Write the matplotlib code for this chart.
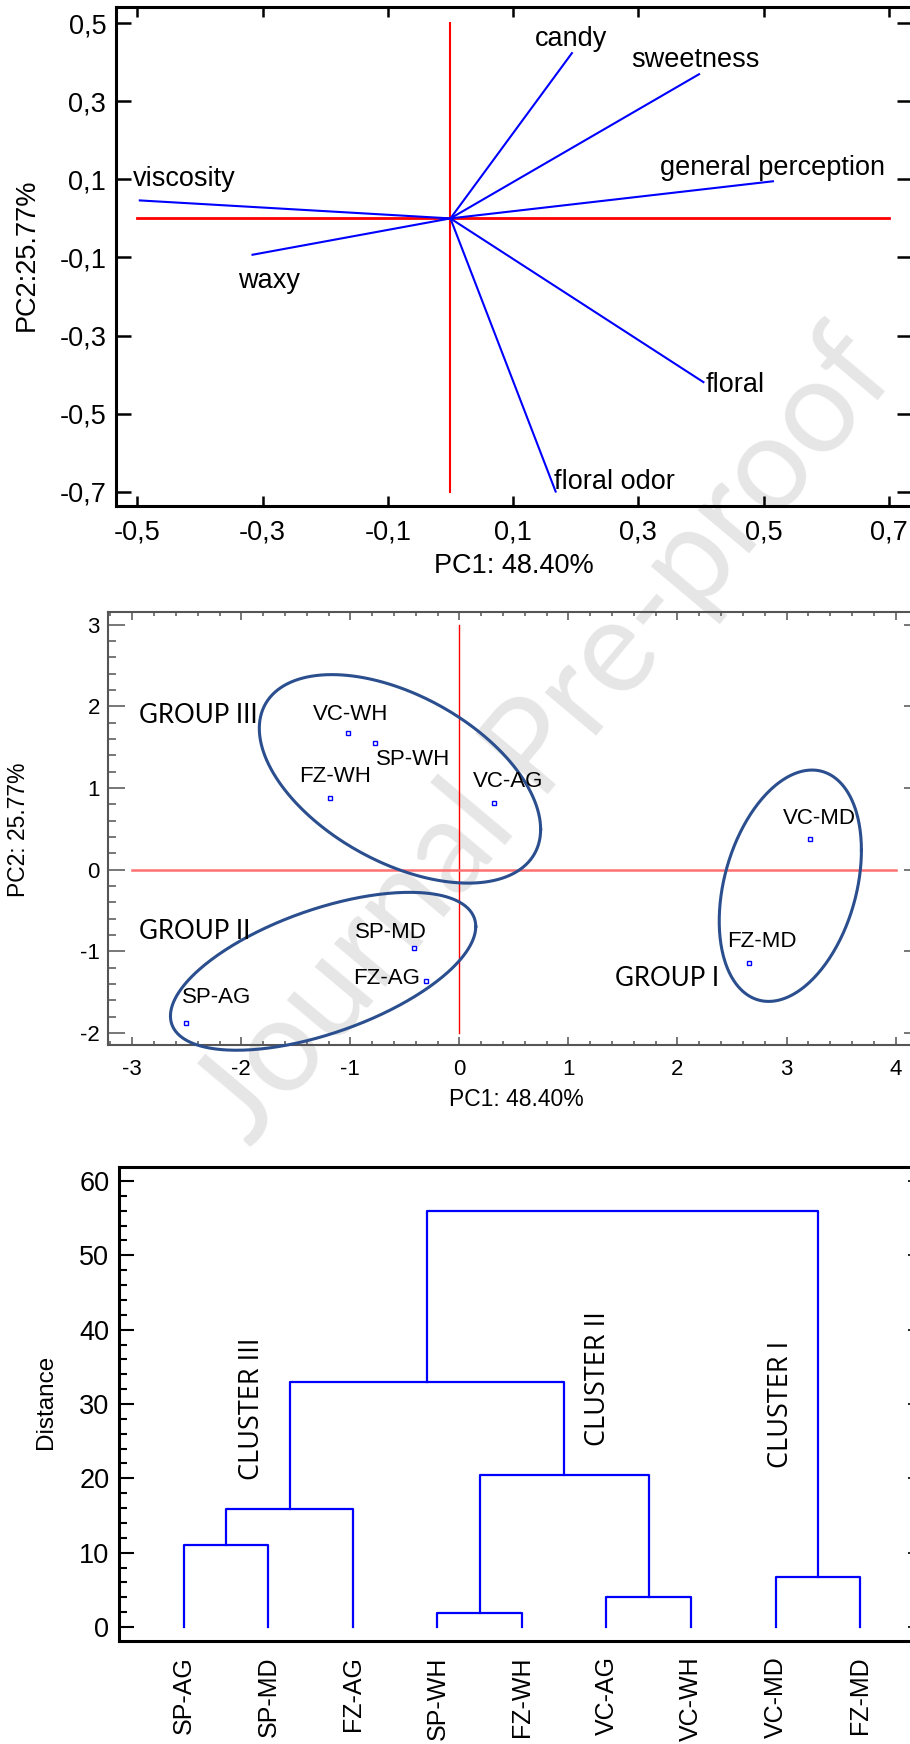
import numpy as np
import matplotlib
matplotlib.use("Agg")
import matplotlib.pyplot as plt
from matplotlib.ticker import MultipleLocator

plt.rcParams['font.family'] = ['Liberation Sans', 'DejaVu Sans']
plt.rcParams['axes.unicode_minus'] = False

# --- PCA loadings (panel 1) ---
attributes = ["candy", "sweetness", "general perception", "viscosity",
              "waxy", "floral", "floral odor"]
load_pc1 = [0.194, 0.397, 0.515, -0.496, -0.316, 0.404, 0.168]
load_pc2 = [0.423, 0.369, 0.095, 0.046, -0.093, -0.419, -0.699]
attr_label_x = [0.135, 0.289, 0.335, -0.507, -0.339, 0.408, 0.166]
attr_label_y = [0.459, 0.405, 0.128, 0.101, -0.161, -0.426, -0.675]

# --- PCA scores (panel 2) ---
samples = ["VC-WH", "SP-WH", "FZ-WH", "VC-AG", "VC-MD", "FZ-MD",
           "SP-MD", "FZ-AG", "SP-AG"]
score_pc1 = [-1.02, -0.77, -1.19, 0.32, 3.22, 2.66, -0.42, -0.31, -2.505]
score_pc2 = [1.68, 1.55, 0.88, 0.82, 0.375, -1.144, -0.953, -1.364, -1.873]
sample_label_x = [-1.34, -0.766, -1.473, 0.122, 2.968, 2.452, -0.957, -0.979, -2.548]
sample_label_y = [1.90, 1.352, 1.14, 1.079, 0.631, -0.879, -0.765, -1.335, -1.568]

groups = ["GROUP III", "GROUP II", "GROUP I"]
group_label_x = [-2.936, -2.936, 1.426]
group_label_y = [1.889, -0.753, -1.327]
# ellipse: centre, half extent in x, half extent in y, x-y covariance term
ell_cx = [-0.545, -1.25, 3.035]
ell_cy = [1.113, -1.244, -0.196]
ell_hw = [1.29, 1.40, 0.652]
ell_hh = [1.277, 0.967, 1.417]
ell_cov = [-0.798, 0.767, 0.282]

# --- dendrogram (panel 3) ---
leaves = ["SP-AG", "SP-MD", "FZ-AG", "SP-WH", "FZ-WH", "VC-AG", "VC-WH",
          "VC-MD", "FZ-MD"]
merge_left = [0, 9, 3, 5, 11, 10, 7, 14]
merge_right = [1, 2, 4, 6, 12, 13, 8, 15]
merge_height = [11.05, 15.9, 1.9, 4.05, 20.5, 32.9, 6.75, 55.9]
clusters = ["CLUSTER III", "CLUSTER II", "CLUSTER I"]
cluster_x = [1.80, 5.90, 8.06]
cluster_y = [29.3, 33.4, 30.0]


def comma(v):
    return f"{v:.1f}".replace(".", ",")


fig = plt.figure(figsize=(9.1, 17.44), dpi=100)

fig.text(0.600, 0.577, "Journal Pre-proof", fontsize=94, color='#e6e6e6',
         rotation=50, ha='center', va='center', family='Lato', zorder=-5)

# ================= panel 1: loadings =================
ax1 = fig.add_axes([0.12747, 0.70986, 0.8747, 0.2859])
ax1.set_facecolor('none')
ax1.plot([0, 0], [-0.7, 0.5], color='red', lw=1.5, zorder=2)
ax1.plot([-0.5, 0.7], [0, 0], color='red', lw=2, zorder=2)
for i, name in enumerate(attributes):
    ax1.plot([0, load_pc1[i]], [0, load_pc2[i]], color='#0000ff', lw=1.5, zorder=3)
    ax1.text(attr_label_x[i], attr_label_y[i], name, fontsize=19.5,
             ha='left', va='center', zorder=4)
ax1.set_xlim(-0.534, 0.737)
ax1.set_ylim(-0.736, 0.540)
xt = np.arange(-0.5, 0.71, 0.2)
yt = np.arange(-0.7, 0.51, 0.2)
ax1.set_xticks(xt, [comma(v) for v in xt])
ax1.set_yticks(yt, [comma(v) for v in yt])
ax1.tick_params(axis='both', direction='in', top=True, right=True,
                width=1.8, labelsize=19.5)
ax1.tick_params(axis='x', length=7, pad=10)
ax1.tick_params(axis='y', length=10.5, pad=7)
for s in ax1.spines.values():
    s.set_linewidth(2.2)
ax1.set_xlabel("PC1: 48.40%", fontsize=19.5)
ax1.set_ylabel("PC2:25.77%", fontsize=19.5)
ax1.xaxis.set_label_coords(0.5, -0.094)
ax1.yaxis.set_label_coords(-0.096, 0.503)

# ================= panel 2: scores =================
ax2 = fig.add_axes([0.1190, 0.40080, 0.8832, 0.2480])
ax2.set_facecolor('none')
ax2.plot([0, 0], [-2, 3], color='red', lw=1, zorder=2)
ax2.plot([-3, 4], [0, 0], color='#ff7070', lw=1.8, zorder=2)
t = np.linspace(0, 2 * np.pi, 300)
for i in range(len(groups)):
    S = np.array([[ell_hw[i] ** 2, ell_cov[i]], [ell_cov[i], ell_hh[i] ** 2]])
    L = np.linalg.cholesky(S)
    pts = L @ np.vstack([np.cos(t), np.sin(t)])
    ax2.plot(ell_cx[i] + pts[0], ell_cy[i] + pts[1], color='#2b4f8e', lw=2.2,
             zorder=3, clip_on=False)
    ax2.text(group_label_x[i], group_label_y[i], groups[i], fontsize=18.5,
             family='Lato', ha='left', va='center', zorder=4)
ax2.plot(score_pc1, score_pc2, ls='none', marker='s', ms=3.5, mfc='white',
         mec='#0000ff', mew=1, zorder=5)
for i, name in enumerate(samples):
    ax2.text(sample_label_x[i], sample_label_y[i], name, fontsize=16,
             ha='left', va='center', zorder=4)
ax2.set_xlim(-3.22, 4.151)
ax2.set_ylim(-2.147, 3.151)
ax2.set_xticks(range(-3, 5))
ax2.set_yticks(range(-2, 4))
ax2.xaxis.set_minor_locator(MultipleLocator(0.2))
ax2.yaxis.set_minor_locator(MultipleLocator(0.2))
ax2.tick_params(axis='both', which='both', direction='in', color='#606060',
                width=1.2, labelsize=16)
ax2.tick_params(axis='x', which='major', length=5.5, top=True, pad=10)
ax2.tick_params(axis='x', which='minor', length=2.8, top=True)
ax2.tick_params(axis='y', which='major', length=12, pad=6)
ax2.tick_params(axis='y', which='minor', length=6)
sec2 = ax2.secondary_yaxis('right')
sec2.set_yticks(range(-2, 4))
sec2.tick_params(direction='in', length=6, color='#606060', width=1.2,
                 labelright=False)
for s in list(ax2.spines.values()) + list(sec2.spines.values()):
    s.set_color('#555555')
    s.set_linewidth(1.5)
ax2.set_xlabel("PC1: 48.40%", fontsize=16.5)
ax2.set_ylabel("PC2: 25.77%", fontsize=16.5)
ax2.xaxis.set_label_coords(0.508, -0.0997)
ax2.yaxis.set_label_coords(-0.0976, 0.498)

# ================= panel 3: dendrogram =================
ax3 = fig.add_axes([0.13077, 0.05906, 0.8714, 0.27179])
ax3.set_facecolor('none')
node_x = list(range(1, len(leaves) + 1))
node_h = [0.0] * len(leaves)
for a, b, h in zip(merge_left, merge_right, merge_height):
    xa, xb = node_x[a], node_x[b]
    ax3.plot([xa, xa, xb, xb], [node_h[a], h, h, node_h[b]],
             color='#0000ff', lw=1.6)
    node_x.append((xa + xb) / 2)
    node_h.append(h)
for i, name in enumerate(clusters):
    ax3.text(cluster_x[i], cluster_y[i], name, fontsize=19.5, family='Open Sans',
             rotation=90, ha='center', va='center')
ax3.set_xlim(0.231, 9.615)
ax3.set_ylim(-1.88, 61.88)
ax3.set_xticks(range(1, len(leaves) + 1), leaves, rotation=90)
ax3.tick_params(axis='x', length=0, pad=11, labelsize=18)
ax3.set_yticks(range(0, 61, 10))
ax3.yaxis.set_minor_locator(MultipleLocator(2))
ax3.tick_params(axis='y', which='both', direction='in', width=1.5, labelsize=19.5, pad=7)
ax3.tick_params(axis='y', which='major', length=11)
ax3.tick_params(axis='y', which='minor', length=5.5)
sec3 = ax3.secondary_yaxis('right')
sec3.set_yticks(range(0, 61, 10))
sec3.tick_params(direction='in', length=3, width=1.2, labelright=False)
for s in list(ax3.spines.values()) + list(sec3.spines.values()):
    s.set_linewidth(2.2)
ax3.set_ylabel("Distance", fontsize=17.5)
ax3.yaxis.set_label_coords(-0.0786, 0.505)

fig.savefig("out.png", dpi=100)
